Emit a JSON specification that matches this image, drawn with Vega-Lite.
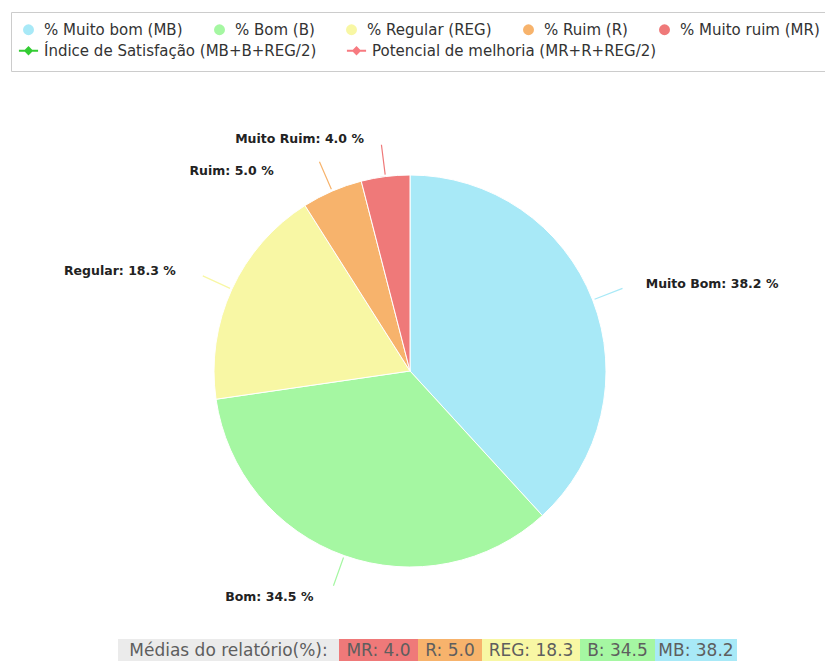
{
  "$schema": "https://vega.github.io/schema/vega-lite/v6.json",
  "padding": {"left": 0, "top": 11, "right": 0, "bottom": 0},
  "background": "white",
  "config": {"view": {"stroke": null}, "concat": {"spacing": 0}, "font": "DejaVu Sans"},
  "datasets": {
    "medias": [
      {"cat": "% Muito bom (MB)", "cod": "MB", "nome": "Muito Bom", "valor": 38.2, "ordem": 1},
      {"cat": "% Bom (B)", "cod": "B", "nome": "Bom", "valor": 34.5, "ordem": 2},
      {"cat": "% Regular (REG)", "cod": "REG", "nome": "Regular", "valor": 18.3, "ordem": 3},
      {"cat": "% Ruim (R)", "cod": "R", "nome": "Ruim", "valor": 5.0, "ordem": 4},
      {"cat": "% Muito ruim (MR)", "cod": "MR", "nome": "Muito Ruim", "valor": 4.0, "ordem": 5}
    ],
    "indices": [
      {"serie": "Índice de Satisfação (MB+B+REG/2)", "valor": 81.85},
      {"serie": "Potencial de melhoria (MR+R+REG/2)", "valor": 18.15}
    ]
  },
  "vconcat": [
    {
      "width": 820,
      "height": 536,
      "layer": [
        {
          "data": {"name": "medias"},
          "mark": {"type": "arc", "outerRadius": 196, "stroke": "white", "strokeWidth": 1},
          "encoding": {
            "theta": {"field": "valor", "type": "quantitative", "stack": true},
            "order": {"field": "ordem", "type": "quantitative"},
            "color": {
              "field": "cat", "type": "nominal",
              "scale": {
                "domain": ["% Muito bom (MB)", "% Bom (B)", "% Regular (REG)", "% Ruim (R)", "% Muito ruim (MR)"],
                "range": ["#a8e9f7", "#a5f7a2", "#f8f7a4", "#f7b36c", "#ef7979"]
              },
              "legend": {
                "orient": "none", "legendX": 11, "legendY": -91,
                "direction": "horizontal",
                "title": " ", "titleOrient": "bottom", "titleFontSize": 15, "titlePadding": 8, "titleColor": "transparent",
                "symbolType": "circle", "symbolSize": 120, "symbolStrokeWidth": 0,
                "labelFont": "DejaVu Sans", "labelFontSize": 15, "labelColor": "#333333",
                "labelOffset": 8, "columnPadding": 29, "padding": 10,
                "strokeColor": "#cccccc", "labelLimit": 400
              }
            }
          }
        },
        {
          "data": {"name": "medias"},
          "mark": {"type": "arc", "innerRadius": 198, "outerRadius": 228, "padAngle": 3, "fill": "transparent", "strokeWidth": 1.2},
          "encoding": {
            "theta": {"field": "valor", "type": "quantitative", "stack": true},
            "order": {"field": "ordem", "type": "quantitative"},
            "stroke": {
              "field": "cat", "type": "nominal", "legend": null,
              "scale": {
                "domain": ["% Muito bom (MB)", "% Bom (B)", "% Regular (REG)", "% Ruim (R)", "% Muito ruim (MR)"],
                "range": ["#a8e9f7", "#a5f7a2", "#f8f7a4", "#f7b36c", "#ef7979"]
              }
            }
          }
        },
        {
          "data": {"name": "medias"},
          "transform": [{"calculate": "datum.nome + ': ' + format(datum.valor, '.1f') + ' %'", "as": "rotulo"}],
          "mark": {
            "type": "text", "radius": 240, "fontSize": 12.5, "fontWeight": "bold", "fill": "#222222", "baseline": "middle",
            "align": {"expr": "datum.cod === 'MB' ? 'left' : 'right'"},
            "dx": {"expr": "datum.cod === 'MB' ? 12 : (datum.cod === 'R' ? -41 : -16)"},
            "dy": {"expr": "datum.cod === 'R' ? 20 : (datum.cod === 'MR' ? 6 : 0)"}
          },
          "encoding": {
            "theta": {"field": "valor", "type": "quantitative", "stack": true},
            "order": {"field": "ordem", "type": "quantitative"},
            "text": {"field": "rotulo", "type": "nominal"}
          }
        },
        {
          "data": {"name": "indices"},
          "mark": {"type": "point", "filled": true, "opacity": 0},
          "encoding": {
            "fill": {
              "field": "serie", "type": "nominal",
              "scale": {"domain": ["Índice de Satisfação (MB+B+REG/2)", "Potencial de melhoria (MR+R+REG/2)"], "range": ["#33cc33", "#f77a80"]},
              "legend": {
                "orient": "none", "legendX": 21, "legendY": -60,
                "direction": "horizontal", "title": null,
                "symbolSize": 120, "symbolStrokeWidth": 0, "symbolOpacity": 1,
                "labelFont": "DejaVu Sans", "labelFontSize": 15, "labelColor": "#333333",
                "labelOffset": 8, "columnPadding": 29, "padding": 0, "labelLimit": 400
              }
            },
            "shape": {
              "field": "serie", "type": "nominal",
              "scale": {"domain": ["Índice de Satisfação (MB+B+REG/2)", "Potencial de melhoria (MR+R+REG/2)"], "range": ["M-1.75,-0.2L1.75,-0.2L1.75,0.2L-1.75,0.2Z M0,-0.85L0.85,0L0,0.85L-0.85,0Z", "M-1.75,-0.2L1.75,-0.2L1.75,0.2L-1.75,0.2Z M0,-0.85L0.85,0L0,0.85L-0.85,0Z"]},
              "legend": {
                "orient": "none", "legendX": 21, "legendY": -60,
                "direction": "horizontal", "title": null,
                "symbolSize": 120, "symbolStrokeWidth": 0, "symbolOpacity": 1,
                "labelFont": "DejaVu Sans", "labelFontSize": 15, "labelColor": "#333333",
                "labelOffset": 8, "columnPadding": 29, "padding": 0, "labelLimit": 400
              }
            }
          }
        }
      ]
    },
    {
      "hconcat": [
        {
          "width": 118, "height": 24,
          "data": {"values": [{"v": ""}]},
          "mark": {"type": "text"},
          "encoding": {"text": {"field": "v", "type": "nominal"}}
        },
        {
          "width": 221, "height": 24,
          "view": {"fill": "#ebebeb", "stroke": null},
          "data": {"values": [{"titulo": "Médias do relatório(%):"}]},
          "mark": {"type": "text", "fontSize": 17, "fill": "#5e5e5e"},
          "encoding": {"text": {"field": "titulo", "type": "nominal"}}
        },
        {
          "width": 79, "height": 24,
          "data": {"name": "medias"},
          "transform": [{"filter": "datum.cod === 'MR'"}, {"calculate": "datum.cod + ': ' + format(datum.valor, '.1f')", "as": "txt"}],
          "layer": [
            {"mark": "rect", "encoding": {"color": {"field": "cat", "type": "nominal"}}},
            {"mark": {"type": "text", "fontSize": 17, "fill": "#5e5e5e"}, "encoding": {"text": {"field": "txt", "type": "nominal"}}}
          ]
        },
        {
          "width": 64, "height": 24,
          "data": {"name": "medias"},
          "transform": [{"filter": "datum.cod === 'R'"}, {"calculate": "datum.cod + ': ' + format(datum.valor, '.1f')", "as": "txt"}],
          "layer": [
            {"mark": "rect", "encoding": {"color": {"field": "cat", "type": "nominal"}}},
            {"mark": {"type": "text", "fontSize": 17, "fill": "#5e5e5e"}, "encoding": {"text": {"field": "txt", "type": "nominal"}}}
          ]
        },
        {
          "width": 98, "height": 24,
          "data": {"name": "medias"},
          "transform": [{"filter": "datum.cod === 'REG'"}, {"calculate": "datum.cod + ': ' + format(datum.valor, '.1f')", "as": "txt"}],
          "layer": [
            {"mark": "rect", "encoding": {"color": {"field": "cat", "type": "nominal"}}},
            {"mark": {"type": "text", "fontSize": 17, "fill": "#5e5e5e"}, "encoding": {"text": {"field": "txt", "type": "nominal"}}}
          ]
        },
        {
          "width": 75, "height": 24,
          "data": {"name": "medias"},
          "transform": [{"filter": "datum.cod === 'B'"}, {"calculate": "datum.cod + ': ' + format(datum.valor, '.1f')", "as": "txt"}],
          "layer": [
            {"mark": "rect", "encoding": {"color": {"field": "cat", "type": "nominal"}}},
            {"mark": {"type": "text", "fontSize": 17, "fill": "#5e5e5e"}, "encoding": {"text": {"field": "txt", "type": "nominal"}}}
          ]
        },
        {
          "width": 82, "height": 24,
          "data": {"name": "medias"},
          "transform": [{"filter": "datum.cod === 'MB'"}, {"calculate": "datum.cod + ': ' + format(datum.valor, '.1f')", "as": "txt"}],
          "layer": [
            {"mark": "rect", "encoding": {"color": {"field": "cat", "type": "nominal"}}},
            {"mark": {"type": "text", "fontSize": 17, "fill": "#5e5e5e"}, "encoding": {"text": {"field": "txt", "type": "nominal"}}}
          ]
        }
      ]
    }
  ]
}
